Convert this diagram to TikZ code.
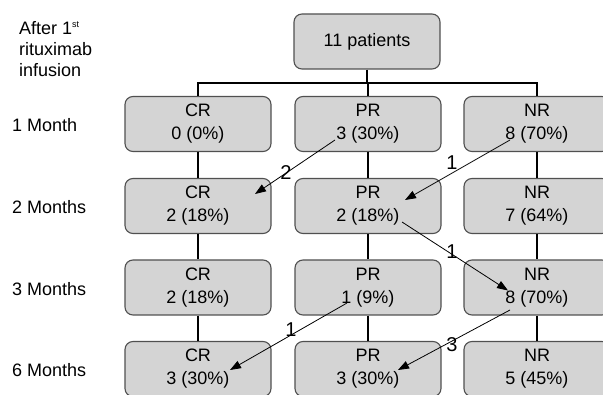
\documentclass[tikz,border=0pt]{standalone}
\usepackage{fontspec}
\setmainfont{Liberation Sans}
\usetikzlibrary{arrows.meta,calc}
\definecolor{boxfill}{HTML}{D4D4D4}
\definecolor{boxline}{HTML}{505050}
\tikzset{
  box/.style={draw=boxline, line width=1.1pt, fill=boxfill, rounded corners=8pt,
    minimum width=146pt, minimum height=55pt, inner sep=0pt, align=center,
    font=\fontsize{18}{23}\selectfont},
  tree/.style={line width=2.6pt, black},
  move/.style={line width=0.8pt, black, -{Triangle[length=11pt,width=8pt]}},
  lbl/.style={font=\fontsize{20}{22}\selectfont, inner sep=0pt},
  side/.style={font=\fontsize{18}{21}\selectfont, anchor=west, inner sep=0pt, align=left}
}
\begin{document}
\begin{tikzpicture}[x=1pt,y=-1pt]
\useasboundingbox (0,0) rectangle (603,395);
\clip (0,0) rectangle (603,395);
% side labels
\node[side, anchor=north west] (after) at (19,21) {After 1\textsuperscript{\fontsize{9}{9}\selectfont st}\\rituximab\\infusion};
\node[side] (m1) at (12,125) {1 Month};
\node[side] (m2) at (12,207) {2 Months};
\node[side] (m3) at (12,289) {3 Months};
\node[side] (m6) at (12,370) {6 Months};
% boxes
\node[box] (top) at (367,41.5) {11 patients};
\node[box] (cr1) at (198,124) {CR\\0 (0\%)};
\node[box] (pr1) at (368,124) {PR\\3 (30\%)};
\node[box] (nr1) at (537,124) {NR\\8 (70\%)};
\node[box] (cr2) at (198,206) {CR\\2 (18\%)};
\node[box] (pr2) at (368,206) {PR\\2 (18\%)};
\node[box] (nr2) at (537,206) {NR\\7 (64\%)};
\node[box] (cr3) at (198,287.5) {CR\\2 (18\%)};
\node[box] (pr3) at (368,287.5) {PR\\1 (9\%)};
\node[box] (nr3) at (537,287.5) {NR\\8 (70\%)};
\node[box] (cr4) at (198,369) {CR\\3 (30\%)};
\node[box] (pr4) at (368,369) {PR\\3 (30\%)};
\node[box] (nr4) at (537,369) {NR\\5 (45\%)};
% tree connectors
\coordinate (bus) at (367,83);
\draw[tree] (top.south) -- (bus);
\draw[tree] (cr1.north) |- (bus) -| (nr1.north);
\draw[tree] (pr1.north) -- (pr1.north |- bus);
\foreach \c in {cr,pr,nr}{
  \draw[tree] (\c1.south) -- (\c2.north);
  \draw[tree] (\c2.south) -- (\c3.north);
  \draw[tree] (\c3.south) -- (\c4.north);
}
% transitions
\coordinate (a1s) at ($(pr1.center)+(-33,16)$);
\coordinate (a1e) at ($(cr2.center)+(57,-12)$);
\coordinate (a2s) at ($(nr1.center)+(-27,16)$);
\coordinate (a2e) at ($(pr2.center)+(37,-6)$);
\coordinate (a3s) at ($(pr2.center)+(34,16)$);
\coordinate (a3e) at ($(nr3.center)+(-29,3)$);
\coordinate (a4s) at ($(pr3.center)+(-21,15.5)$);
\coordinate (a4e) at ($(cr4.center)+(32,1)$);
\coordinate (a5s) at ($(nr3.center)+(-27,22.5)$);
\coordinate (a5e) at ($(pr4.center)+(30,1)$);
\draw[move] (a1s) -- (a1e);
\draw[move] (a2s) -- (a2e);
\draw[move] (a3s) -- (a3e);
\draw[move] (a4s) -- (a4e);
\draw[move] (a5s) -- (a5e);
\node[lbl] (l1) at (286,173) {2};
\node[lbl] (l2) at (452,163) {1};
\node[lbl] (l3) at (452,252) {1};
\node[lbl] (l4) at (291,330) {1};
\node[lbl] (l5) at (452,345) {3};
\end{tikzpicture}
\end{document}
